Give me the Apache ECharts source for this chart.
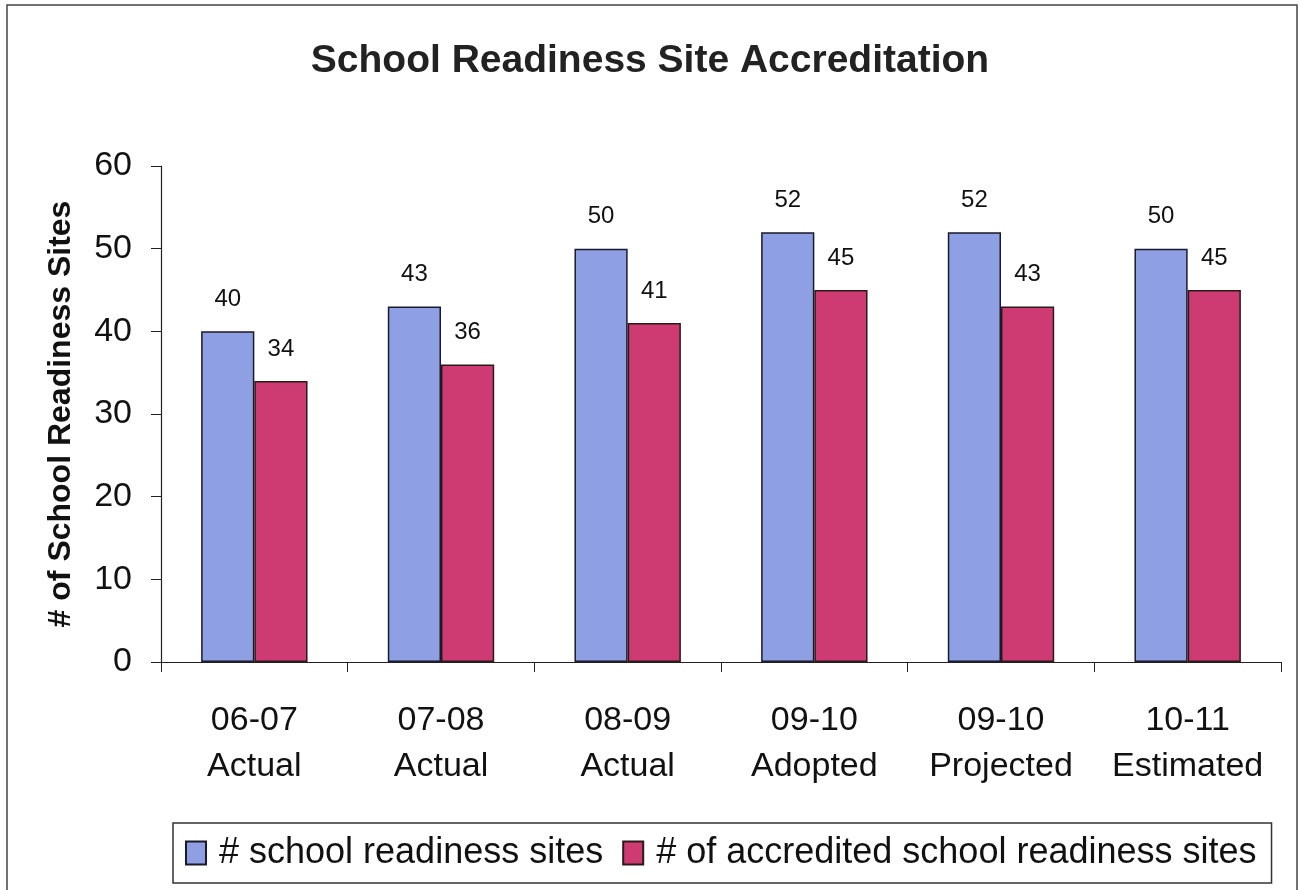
<!DOCTYPE html>
<html>
<head>
<meta charset="utf-8">
<script src="https://cdn.jsdelivr.net/npm/echarts@6/dist/echarts.min.js"></script>
<style>
html,body{margin:0;padding:0;background:#fff;}
#chart{width:1300px;height:890px;}
</style>
</head>
<body>
<div id="chart"></div>
<script>
const years = ["06-07", "07-08", "08-09", "09-10", "09-10", "10-11"];
const kinds = ["Actual", "Actual", "Actual", "Adopted", "Projected", "Estimated"];
const sites = [40, 43, 50, 52, 52, 50];
const accredited = [34, 36, 41, 45, 43, 45];
const seriesNames = ["# school readiness sites", "# of accredited school readiness sites"];
const titleText = "School Readiness Site Accreditation";
const yName = "# of School Readiness Sites";

const categories = years.map((y, i) => y + "\n" + kinds[i]);
const FONT = "Liberation Sans, Arial, sans-serif";

const chart = echarts.init(document.getElementById('chart'));
const labelStyle = {show: true, position: 'top', distance: 20, fontSize: 24, color: '#111', fontFamily: FONT};

chart.setOption({
  animation: false,
  backgroundColor: '#fff',
  title: {
    text: titleText, left: 'center', top: 37,
    textStyle: {fontSize: 39, fontWeight: 'bold', color: '#222', fontFamily: FONT}
  },
  graphic: [{
    type: 'rect', shape: {x: 7, y: 5, width: 1290, height: 900},
    style: {fill: 'none', stroke: '#444', lineWidth: 1.5}, silent: true, z: -1
  }],
  legend: {
    data: seriesNames, left: 173, top: 823,
    padding: [12, 15, 12, 12], itemGap: 19,
    borderColor: '#333', borderWidth: 1.5, borderRadius: 0,
    itemWidth: 20, itemHeight: 23, icon: 'rect',
    textStyle: {fontSize: 36, color: '#111', fontFamily: FONT, padding: [0, 0, 0, 8]}
  },
  grid: {left: 161, right: 19, top: 166, bottom: 228, containLabel: false},
  xAxis: {
    type: 'category', data: categories,
    axisLine: {lineStyle: {color: '#222', width: 1.2}},
    axisTick: {show: true, length: 10, lineStyle: {color: '#222'}},
    axisLabel: {interval: 0, fontSize: 34, color: '#111', fontFamily: FONT, margin: 36, lineHeight: 46}
  },
  yAxis: {
    type: 'value', min: 0, max: 60, interval: 10,
    name: yName, nameLocation: 'middle', nameGap: 84, nameRotate: 90,
    nameTextStyle: {fontSize: 32, fontWeight: 'bold', color: '#111', fontFamily: FONT},
    axisLine: {show: true, lineStyle: {color: '#222', width: 1.2}},
    axisTick: {show: true, length: 10, lineStyle: {color: '#222'}},
    splitLine: {show: false},
    axisLabel: {fontSize: 34, color: '#111', fontFamily: FONT, margin: 29}
  },
  series: [
    {
      name: seriesNames[0], type: 'bar', data: sites,
      barGap: '0%', barCategoryGap: '43%',
      itemStyle: {color: '#8E9FE3', borderColor: '#1a1a2a', borderWidth: 1.5},
      label: labelStyle
    },
    {
      name: seriesNames[1], type: 'bar', data: accredited,
      itemStyle: {color: '#CE3A72', borderColor: '#2a1a1a', borderWidth: 1.5},
      label: labelStyle
    }
  ]
});
</script>
</body>
</html>
